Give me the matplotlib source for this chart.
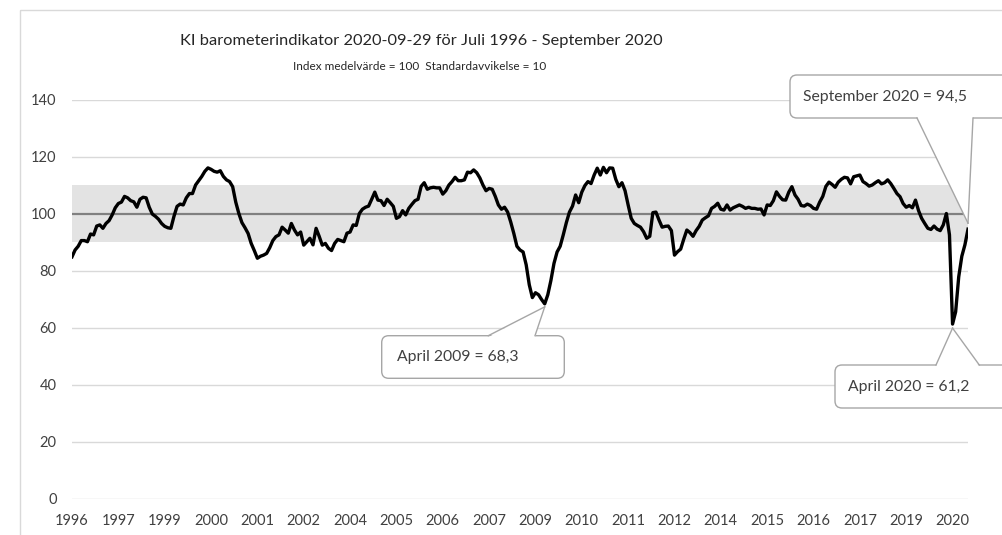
import matplotlib
matplotlib.use("Agg")
import matplotlib.pyplot as plt
from matplotlib.patches import FancyBboxPatch, Polygon, Rectangle
import pandas as pd

# KI barometer, monthly, Jul 1996 - Sep 2020
months = pd.date_range("1996-07-01", "2020-09-01", freq="MS")
barometer = [
    84.8, 87.2, 88.5, 90.5, 90.5, 90.1,                                        # 1996 jul-dec
    92.8, 92.5, 95.6, 96.0, 94.8, 96.5, 97.5, 99.5, 102.0, 103.5, 104.0, 106.0,  # 1997
    105.5, 104.5, 104.1, 102.2, 105.0, 105.7, 105.5, 102.2, 99.8, 99.0, 98.0, 96.5,  # 1998
    95.5, 95.0, 94.8, 99.0, 102.5, 103.3, 103.0, 105.5, 107.0, 107.0, 110.0, 111.5,  # 1999
    113.0, 114.8, 116.0, 115.5, 114.8, 114.5, 115.0, 113.0, 111.8, 111.2, 109.4, 104.0,  # 2000
    100.0, 96.8, 95.0, 93.0, 89.5, 87.0, 84.3, 85.0, 85.4, 86.0, 88.0, 90.5,  # 2001
    91.9, 92.5, 95.2, 94.2, 93.1, 96.5, 94.2, 92.5, 93.5, 88.9, 90.1, 91.3,  # 2002
    89.0, 94.8, 92.0, 88.9, 89.5, 87.8, 87.0, 89.5, 90.9, 90.5, 90.1, 93.1,  # 2003
    93.5, 96.0, 95.8, 100.0, 101.5, 102.2, 102.6, 105.0, 107.5, 104.7, 104.5, 102.8,  # 2004
    105.0, 103.8, 102.5, 98.3, 98.9, 101.0, 99.5, 101.8, 103.2, 104.5, 105.0, 109.5,  # 2005
    110.8, 108.5, 109.0, 109.2, 109.0, 109.0, 106.8, 108.0, 110.0, 111.2, 112.7, 111.5,  # 2006
    111.5, 111.8, 114.5, 114.3, 115.3, 114.3, 112.5, 110.0, 108.0, 108.8, 108.5, 106.0,  # 2007
    103.0, 101.5, 102.2, 100.5, 97.0, 93.0, 88.5, 87.2, 86.5, 82.0, 75.0, 70.5,  # 2008
    72.2, 71.5, 69.8, 68.3, 71.5, 76.5, 82.5, 86.5, 88.5, 92.5, 96.8, 100.5,  # 2009
    102.6, 106.5, 103.8, 107.5, 109.8, 111.2, 110.5, 113.5, 115.9, 113.5, 116.2, 114.3,  # 2010
    116.0, 115.9, 112.0, 109.4, 110.8, 108.0, 103.0, 98.3, 96.5, 95.8, 95.2, 93.6,  # 2011
    91.3, 92.0, 100.3, 100.5, 97.7, 95.2, 95.5, 95.6, 94.0, 85.4, 86.6, 87.5,  # 2012
    91.0, 94.2, 93.3, 92.0, 94.0, 95.5, 97.7, 98.5, 99.2, 101.8, 102.5, 103.6,  # 2013
    101.5, 101.2, 103.0, 101.2, 102.0, 102.5, 103.0, 102.5, 101.8, 102.2, 101.8, 101.8,  # 2014
    101.5, 101.6, 99.5, 103.0, 102.8, 104.5, 107.6, 106.0, 104.8, 104.7, 107.5, 109.4,  # 2015
    106.5, 105.0, 102.8, 102.6, 103.3, 102.8, 101.8, 101.5, 104.0, 106.0, 109.5, 111.0,  # 2016
    110.2, 109.2, 111.0, 112.0, 112.7, 112.5, 110.4, 112.9, 113.2, 113.5, 111.2, 110.5,  # 2017
    109.6, 110.0, 110.8, 111.5, 110.4, 110.8, 111.8, 110.5, 108.8, 107.0, 105.9, 103.5,  # 2018
    102.2, 102.8, 102.0, 104.7, 101.0, 98.3, 96.5, 94.8, 94.4, 95.6, 94.5, 94.0,  # 2019
    96.0, 100.0, 92.5, 61.2, 65.5, 77.8, 85.0, 89.0, 94.5,                     # 2020 jan-sep
]

tick_step = 15  # category axis shows every 15th month
tick_labels = ["1996", "1997", "1999", "2000", "2001", "2002", "2004", "2005", "2006", "2007",
               "2009", "2010", "2011", "2012", "2014", "2015", "2016", "2017", "2019", "2020"]
y_ticks = [0, 20, 40, 60, 80, 100, 120, 140]
mean_level = 100
band = (90, 110)

# callouts: (month, label)
notes = [("2020-09-01", "September 2020"), ("2009-04-01", "April 2009"), ("2020-04-01", "April 2020")]

plt.rcParams["font.family"] = ["Lato", "DejaVu Sans"]
txt = "#404040"
edge = "#a6a6a6"

W, H = 1002, 535
fig = plt.figure(figsize=(W / 100, H / 100), dpi=100)
ax = fig.add_axes([72 / W, 1 - 498.5 / H, (968 - 72) / W, (498.5 - 99.5) / H])

x = list(range(len(barometer)))
ax.axhspan(band[0], band[1], color="#e3e3e3", lw=0, zorder=1)
ax.axhline(mean_level, color="#808080", lw=1.6, zorder=2)
ax.plot(x, barometer, color="black", lw=2.4, zorder=3, solid_joinstyle="round")

ax.set_xlim(0, len(barometer) - 1)
ax.set_ylim(0, 140)
ax.set_yticks(y_ticks)
ax.set_xticks(x[::tick_step])
ax.set_xticklabels(tick_labels)
ax.yaxis.grid(True, color="#d9d9d9", lw=1)
ax.set_axisbelow(True)
for s in ax.spines.values():
    s.set_visible(False)
ax.tick_params(axis="both", length=0, labelsize=10.5, labelcolor=txt)
ax.tick_params(axis="y", pad=11)
ax.tick_params(axis="x", pad=11)

fig.text(421 / W, 1 - 41 / H, "KI barometerindikator 2020-09-29 för Juli 1996 - September 2020",
         ha="center", va="center", fontsize=11.8, color="#262626")
fig.text(420 / W, 1 - 66 / H, "Index medelvärde = 100  Standardavvikelse = 10",
         ha="center", va="center", fontsize=8.5, color="#262626")

# overlay in pixel coordinates for border and callouts
ov = fig.add_axes([0, 0, 1, 1], zorder=5)
ov.set_xlim(0, W)
ov.set_ylim(H, 0)
ov.axis("off")
ov.add_patch(Rectangle((20, 10), W + 20, H + 20, fill=False, ec="#d9d9d9", lw=1))


def to_px(i, v):
    px, py = ax.transData.transform((i, v))
    return px, H - py


def callout(box, base, tip, text, tx):
    x0, y0, x1, y1 = box
    ov.add_patch(FancyBboxPatch((x0, y0), x1 - x0, y1 - y0, boxstyle="round,pad=0,rounding_size=7",
                                fc="white", ec=edge, lw=1))
    bx0, bx1, by = base
    inset = 1.5 if by == y0 else -1.5
    ov.add_patch(Polygon([(bx0, by + inset), (bx1, by + inset), tip], closed=True, fc="white", ec="none"))
    ov.plot([bx0, tip[0]], [by, tip[1]], color=edge, lw=1)
    ov.plot([bx1, tip[0]], [by, tip[1]], color=edge, lw=1)
    ov.text(tx, (y0 + y1) / 2, text, ha="left", va="center", fontsize=11.3, color=txt)


idx = {d.strftime("%Y-%m-%d"): i for i, d in enumerate(months)}
layout = [
    ((790, 75, 1040, 118), (917, 973, 118), -6, 803),
    ((381.7, 335.7, 564.3, 378.3), (488.3, 535, 335.7), 3, 396.7),
    ((835, 365, 1040, 408), (936, 979.3, 365), 4, 848),
]
for (d, name), (box, base, off, tx) in zip(notes, layout):
    i = idx[d]
    v = barometer[i]
    px, py = to_px(i, v)
    label = f"{name} = {v:.1f}".replace(".", ",")
    callout(box, base, (px, py + off), label, tx)

fig.savefig("out.png", dpi=100)
